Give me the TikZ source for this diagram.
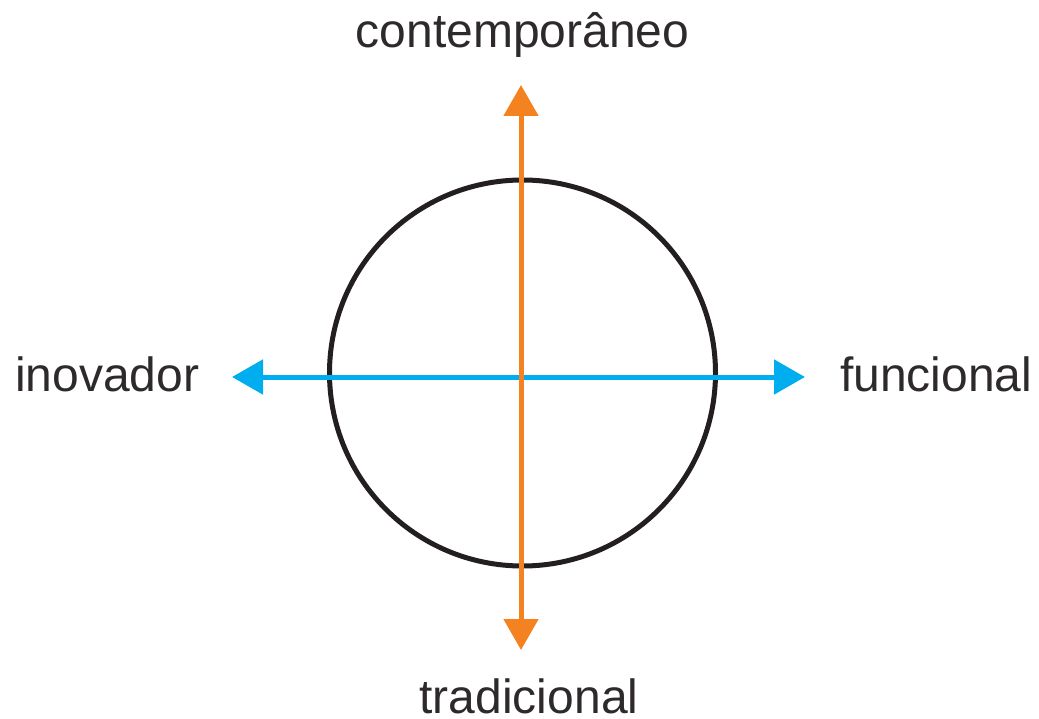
\documentclass[tikz,border=0pt]{standalone}
\usepackage{fontspec}
\setmainfont{Liberation Sans}
\usetikzlibrary{arrows.meta, positioning}
\definecolor{axisorange}{HTML}{F58220}
\definecolor{axisblue}{HTML}{00AEEF}
\definecolor{ringblack}{HTML}{231F20}
\begin{document}
\begin{tikzpicture}[
  x=1pt, y=-1pt,
  font=\fontsize{48}{58}\selectfont,
  label/.style={inner sep=0pt, text=ringblack!95},
  ring/.style={circle, draw=ringblack, line width=5pt, minimum size=386pt, inner sep=0pt},
  arr/.style={{Triangle[length=31pt, width=34pt]}-{Triangle[length=31pt, width=34pt]}, line width=5pt}]
\useasboundingbox (0,0) rectangle (1039,719);
\node[ring] (ring) at (522.5,373) {};
\coordinate (left) at (232,377); \coordinate (right) at (805,377);
\coordinate (top) at (521,85); \coordinate (bottom) at (521,650);
\node[label, anchor=base] (contemp) at (522.5,48) {contemporâneo};
\node[label, anchor=base] (tradic) at (529,713) {tradicional};
\node[label, anchor=base west] (inov) at (15,391) {inovador};
\node[label, anchor=base west] (func) at (840,391) {funcional};
\draw[arr, axisblue] (left) -- (right);
\draw[arr, axisorange] (top) -- (bottom);
\end{tikzpicture}
\end{document}
